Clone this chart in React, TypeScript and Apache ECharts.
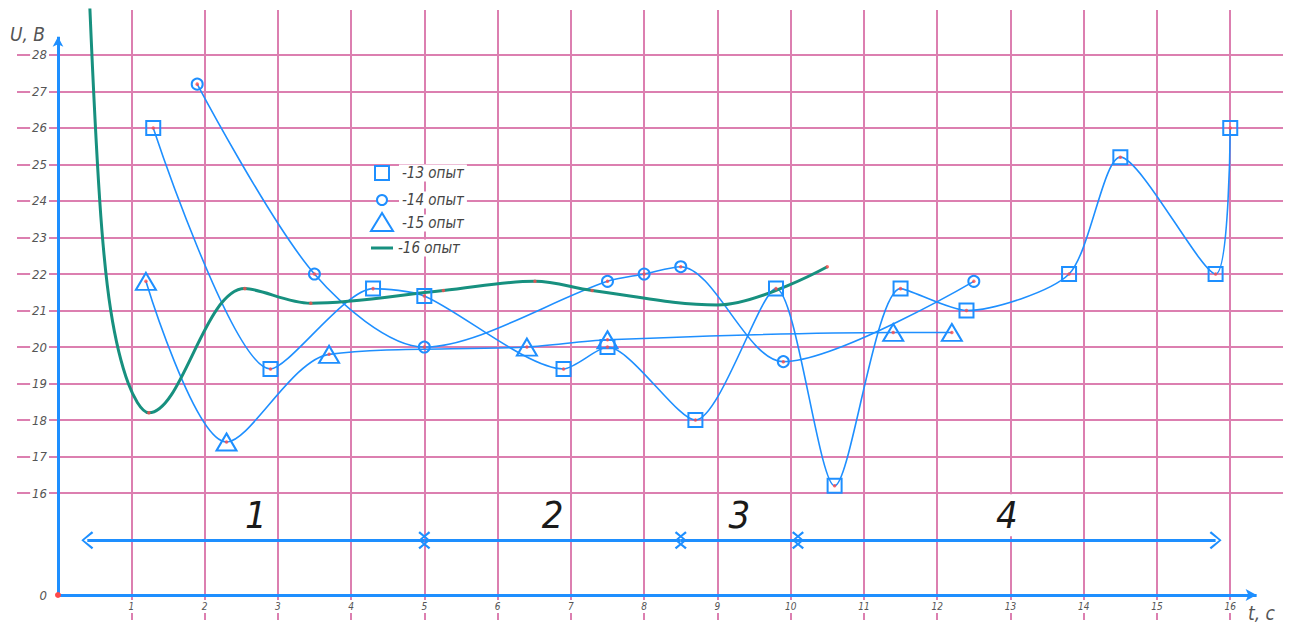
import React, { useEffect, useRef } from 'react';
import * as echarts from 'echarts';

// ---- axis ticks ----
const xTicks = [1, 2, 3, 4, 5, 6, 7, 8, 9, 10, 11, 12, 13, 14, 15, 16];
const yTicks = [16, 17, 18, 19, 20, 21, 22, 23, 24, 25, 26, 27, 28];
const Y_ZERO = 13.21; // where the "0" of the broken U axis sits
const Y_MAX = 29.23;
const X_MAX = 16.72;

// ---- experiment 13 (squares) ----
const s13X = [1.3, 2.9, 4.3, 5.0, 6.9, 7.5, 8.7, 9.8, 10.6, 11.5, 12.4, 13.8, 14.5, 15.8, 16.0];
const s13Y = [26.0, 19.4, 21.6, 21.4, 19.4, 20.0, 18.0, 21.6, 16.2, 21.6, 21.0, 22.0, 25.2, 22.0, 26.0];
// ---- experiment 14 (circles) ----
const s14X = [1.9, 3.5, 5.0, 7.5, 8.0, 8.5, 9.9, 12.5];
const s14Y = [27.2, 22.0, 20.0, 21.8, 22.0, 22.2, 19.6, 21.8];
// ---- experiment 15 (triangles) ----
const s15X = [1.2, 2.3, 3.7, 6.4, 7.5, 11.4, 12.2];
const s15Y = [21.8, 17.4, 19.8, 20.0, 20.2, 20.4, 20.4];
// ---- experiment 16 (green curve) ----
const s16X = [0.42, 0.57, 0.72, 0.96, 1.24, 2.55, 3.45, 5.26, 6.51, 7.29, 9.0, 10.5];
const s16Y = [30.0, 24.0, 21.0, 19.0, 18.2, 21.6, 21.2, 21.55, 21.8, 21.55, 21.15, 22.2];
const s16Marked = [false, false, false, false, true, true, true, true, true, true, false, true];

// ---- time ranges ----
const rangeBounds = [0.4, 5.0, 8.5, 10.1, 15.8];
const rangeLabels = ['1', '2', '3', '4'];
const rangeLevel = 14.71;

const legendNames = ['-13 опыт', '-14 опыт', '-15 опыт', '-16 опыт'];

const BLUE = '#1e8fff';
const GREEN = '#17907f';
const PINK = '#dc7fb0';
const RED = '#ff4a4a';
const FONT = '"DejaVu Sans Condensed", "DejaVu Sans", sans-serif';

const pairs = (xs: number[], ys: number[]) => xs.map((x, i) => [x, ys[i]]);

const chevron = 'path://M10,0 L20,14 L18,16 L10,3.5 L2,16 L0,14 Z';

export default function App() {
  const ref = useRef<HTMLDivElement>(null);
  useEffect(() => {
    if (!ref.current) return;
    const chart = echarts.init(ref.current, null, { renderer: 'svg' });

    const redPoints = [
      ...pairs(s13X, s13Y),
      ...pairs(s14X, s14Y),
      ...pairs(s15X, s15Y),
      ...pairs(s16X, s16Y).filter((_, i) => s16Marked[i]),
    ];

    const rangeLines = rangeLabels.map((lab, i) => [
      {
        coord: [rangeBounds[i], rangeLevel],
        symbol: chevron,
        symbolSize: [18, 12],
        label: {
          show: true,
          position: 'middle',
          formatter: lab,
          fontSize: 38,
          fontStyle: 'italic',
          fontFamily: FONT,
          color: '#1a1a1a',
          distance: 4,
          backgroundColor: i >= 2 ? '#fff' : 'transparent',
          padding: [2, 6],
        },
      },
      { coord: [rangeBounds[i + 1], rangeLevel], symbol: chevron, symbolSize: [18, 12] },
    ]);

    const axisLines = [
      [
        { coord: [0, Y_ZERO], symbol: 'none' },
        { coord: [16.36, Y_ZERO], symbol: 'arrow', symbolSize: [9, 11] },
      ],
      [
        { coord: [0, Y_ZERO], symbol: 'none' },
        { coord: [0, 28.5], symbol: 'arrow', symbolSize: [8, 10] },
      ],
    ];

    const textStyle = {
      font: `italic 15px ${FONT}`,
      fill: '#444',
      backgroundColor: '#fff',
      padding: [1, 3],
      verticalAlign: 'middle',
      align: 'left',
    };

    chart.setOption({
      animation: false,
      backgroundColor: '#fff',
      grid: { left: 58, right: 11, top: 10, bottom: 33, containLabel: false },
      xAxis: {
        type: 'value',
        min: 0,
        max: X_MAX,
        axisLine: { show: false },
        axisTick: {
          show: true,
          customValues: xTicks,
          length: 25,
          lineStyle: { color: PINK, width: 2 },
        },
        axisLabel: {
          customValues: xTicks,
          fontSize: 10,
          fontStyle: 'italic',
          fontFamily: FONT,
          color: '#555',
          margin: 5,
          backgroundColor: '#fff',
          padding: [1, 1, 2, 1],
        },
        splitLine: { show: true, lineStyle: { color: PINK, width: 2 } },
      },
      yAxis: {
        type: 'value',
        min: Y_ZERO,
        max: Y_MAX,
        axisLine: { show: false },
        axisTick: {
          show: true,
          customValues: yTicks,
          length: 41,
          lineStyle: { color: PINK, width: 2 },
        },
        axisLabel: {
          customValues: [Y_ZERO, ...yTicks],
          formatter: (v: number) => (v < 15 ? '0' : String(Math.round(v))),
          fontSize: 13,
          fontStyle: 'italic',
          fontFamily: FONT,
          color: '#555',
          margin: 9,
          backgroundColor: '#fff',
          padding: [0, 2],
        },
        splitLine: { show: true, lineStyle: { color: PINK, width: 2 } },
      },
      series: [
        {
          name: legendNames[0],
          type: 'line',
          data: pairs(s13X, s13Y),
          smooth: 0.25,
          symbol: 'rect',
          symbolSize: 14,
          lineStyle: { color: BLUE, width: 1.6 },
          itemStyle: { color: 'rgba(255,255,255,0)', borderColor: BLUE, borderWidth: 2 },
          z: 3,
        },
        {
          name: legendNames[1],
          type: 'line',
          data: pairs(s14X, s14Y),
          smooth: 0.3,
          symbol: 'circle',
          symbolSize: 11,
          lineStyle: { color: BLUE, width: 1.6 },
          itemStyle: { color: 'rgba(255,255,255,0)', borderColor: BLUE, borderWidth: 2 },
          z: 3,
        },
        {
          name: legendNames[2],
          type: 'line',
          data: pairs(s15X, s15Y),
          smooth: 0.3,
          symbol: 'triangle',
          symbolSize: [20, 17],
          lineStyle: { color: BLUE, width: 1.6 },
          itemStyle: { color: 'rgba(255,255,255,0)', borderColor: BLUE, borderWidth: 2 },
          z: 3,
        },
        {
          name: legendNames[3],
          type: 'line',
          data: pairs(s16X, s16Y),
          smooth: 0.35,
          symbol: 'none',
          lineStyle: { color: GREEN, width: 3 },
          z: 3,
        },
        {
          name: 'points',
          type: 'scatter',
          data: redPoints,
          symbol: 'circle',
          symbolSize: 3.5,
          itemStyle: { color: RED },
          clip: false,
          z: 6,
          silent: true,
          markLine: {
            silent: true,
            animation: false,
            lineStyle: { color: BLUE, width: 3, type: 'solid' },
            label: { show: false },
            data: [...axisLines, ...rangeLines],
          },
          markPoint: {
            silent: true,
            symbol: 'circle',
            symbolSize: 6,
            itemStyle: { color: RED },
            label: { show: false },
            data: [{ coord: [0, Y_ZERO] }],
          },
        },
      ],
      graphic: [
        {
          type: 'text',
          left: 10,
          top: 24,
          style: { text: 'U, B', font: `italic 19px ${FONT}`, fill: '#555' },
        },
        {
          type: 'text',
          left: 1248,
          top: 603,
          style: { text: 't, c', font: `italic 19px ${FONT}`, fill: '#555' },
        },
        // legend
        {
          type: 'rect',
          shape: { x: 375, y: 166, width: 14, height: 14 },
          style: { fill: '#fff', stroke: BLUE, lineWidth: 2 },
          z: 10,
        },
        { type: 'text', x: 399, y: 173, style: { ...textStyle, text: legendNames[0] }, z: 10 },
        {
          type: 'circle',
          shape: { cx: 382, cy: 200, r: 5 },
          style: { fill: '#fff', stroke: BLUE, lineWidth: 2 },
          z: 10,
        },
        { type: 'text', x: 399, y: 200, style: { ...textStyle, text: legendNames[1] }, z: 10 },
        {
          type: 'polygon',
          shape: { points: [[382, 213], [371, 231], [393, 231]] },
          style: { fill: '#fff', stroke: BLUE, lineWidth: 2 },
          z: 10,
        },
        { type: 'text', x: 399, y: 223, style: { ...textStyle, text: legendNames[2] }, z: 10 },
        {
          type: 'line',
          shape: { x1: 371, y1: 248, x2: 393, y2: 248 },
          style: { stroke: GREEN, lineWidth: 3 },
          z: 10,
        },
        { type: 'text', x: 395, y: 248, style: { ...textStyle, text: legendNames[3] }, z: 10 },
      ],
    });

    return () => chart.dispose();
  }, []);

  return (
    <div
      ref={ref}
      style={{ position: 'fixed', left: 0, top: 0, width: 1294, height: 628, background: '#fff' }}
    />
  );
}
